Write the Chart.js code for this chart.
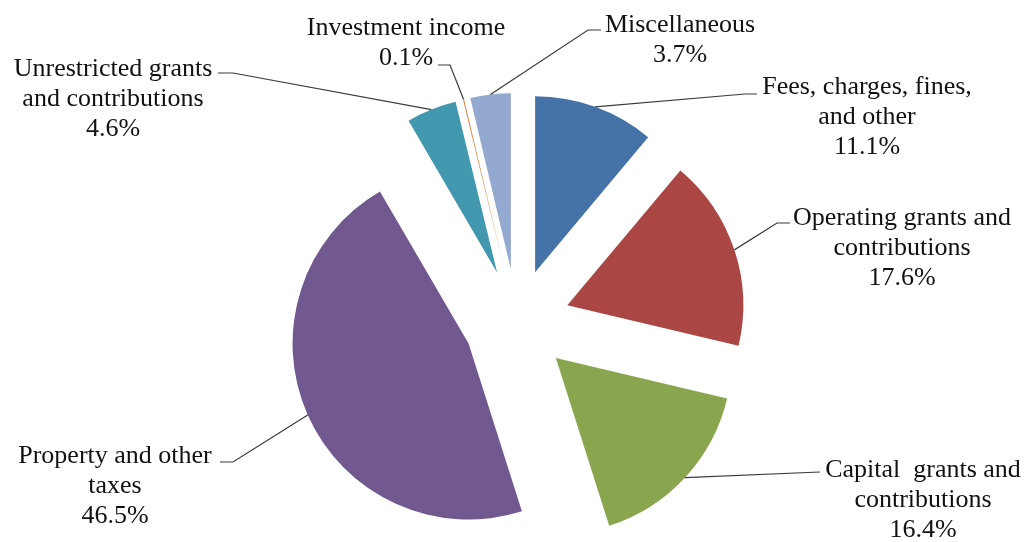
<!DOCTYPE html>
<html><head><meta charset="utf-8">
<script src="https://cdn.jsdelivr.net/npm/chart.js@4"></script>
<style>html,body{margin:0;padding:0;background:#fff}#wrap{width:1027px;height:542px;position:relative}</style>
</head><body><div id="wrap"><canvas id="c"></canvas></div>
<script>
const categories = ['Fees, charges, fines, and other', 'Operating grants and contributions', 'Capital  grants and contributions', 'Property and other taxes', 'Unrestricted grants and contributions', 'Investment income', 'Miscellaneous'];
const shares = [11.1, 17.6, 16.4, 46.5, 4.6, 0.1, 3.7];
const labelLines = [
  ['Fees, charges, fines,', 'and other'],
  ['Operating grants and', 'contributions'],
  ['Capital  grants and', 'contributions'],
  ['Property and other', 'taxes'],
  ['Unrestricted grants', 'and contributions'],
  ['Investment income'],
  ['Miscellaneous']
];
const colors = ['#4572A7', '#AA4643', '#89A54E', '#71588F', '#4198AF', '#DB843D', '#93A9CF'];

// label placement (layout only): text centre x, first baseline y, leader path points
const labelLayout = [
  {x: 867, y: 94,  path: [[745, 94], [757, 94]]},
  {x: 902, y: 225, path: [[777, 223], [790, 223]]},
  {x: 923, y: 477, path: [[820, 472]]},
  {x: 115, y: 463, path: [[233, 462], [220, 462]]},
  {x: 113, y: 76,  path: [[233, 73], [218, 73]]},
  {x: 406, y: 35,  path: [[450, 65], [438, 65]]},
  {x: 680, y: 32,  path: [[588, 30], [601, 30]]}
];

const explodePlugin = {
  id: 'explode',
  beforeDatasetsDraw(chart, args, opts) {
    const meta = chart.getDatasetMeta(0);
    const ctrl = meta.controller;
    const ca = chart.chartArea;
    const cx = (ca.left + ca.right) / 2 + (ctrl.offsetX || 0);
    const cy = (ca.top + ca.bottom) / 2 + (ctrl.offsetY || 0);
    meta.data.forEach(arc => {
      const mid = (arc.startAngle + arc.endAngle) / 2;
      arc.x = cx + Math.cos(mid) * opts.distance;
      arc.y = cy + Math.sin(mid) * opts.distance;
    });
  }
};

const labelPlugin = {
  id: 'outLabels',
  afterDatasetsDraw(chart) {
    const ctx = chart.ctx;
    const meta = chart.getDatasetMeta(0);
    ctx.save();
    meta.data.forEach((arc, i) => {
      const lay = labelLayout[i];
      const mid = (arc.startAngle + arc.endAngle) / 2;
      const sx = arc.x + Math.cos(mid) * arc.outerRadius;
      const sy = arc.y + Math.sin(mid) * arc.outerRadius;
      ctx.beginPath();
      ctx.moveTo(sx, sy);
      lay.path.forEach(p => ctx.lineTo(p[0], p[1]));
      ctx.strokeStyle = '#3a3a3a';
      ctx.lineWidth = 1.2;
      ctx.stroke();
      const lines = labelLines[i].concat([shares[i].toFixed(1) + '%']);
      ctx.fillStyle = '#111';
      ctx.font = '26px "Liberation Serif", "Times New Roman", serif';
      ctx.textAlign = 'center';
      ctx.textBaseline = 'alphabetic';
      lines.forEach((t, k) => ctx.fillText(t, lay.x, lay.y + k * 30));
    });
    ctx.restore();
  }
};

new Chart(document.getElementById('c'), {
  type: 'pie',
  data: {
    labels: categories,
    datasets: [{
      data: shares,
      backgroundColor: colors,
      borderWidth: 0,
      radius: 176
    }]
  },
  options: {
    responsive: true,
    maintainAspectRatio: false,
    animation: false,
    events: [],
    layout: {padding: {left: 7, right: 0, top: 102, bottom: 0}},
    plugins: {
      legend: {display: false},
      title: {display: false},
      tooltip: {enabled: false},
      explode: {distance: 53}
    }
  },
  plugins: [explodePlugin, labelPlugin]
});
</script>
</body></html>
